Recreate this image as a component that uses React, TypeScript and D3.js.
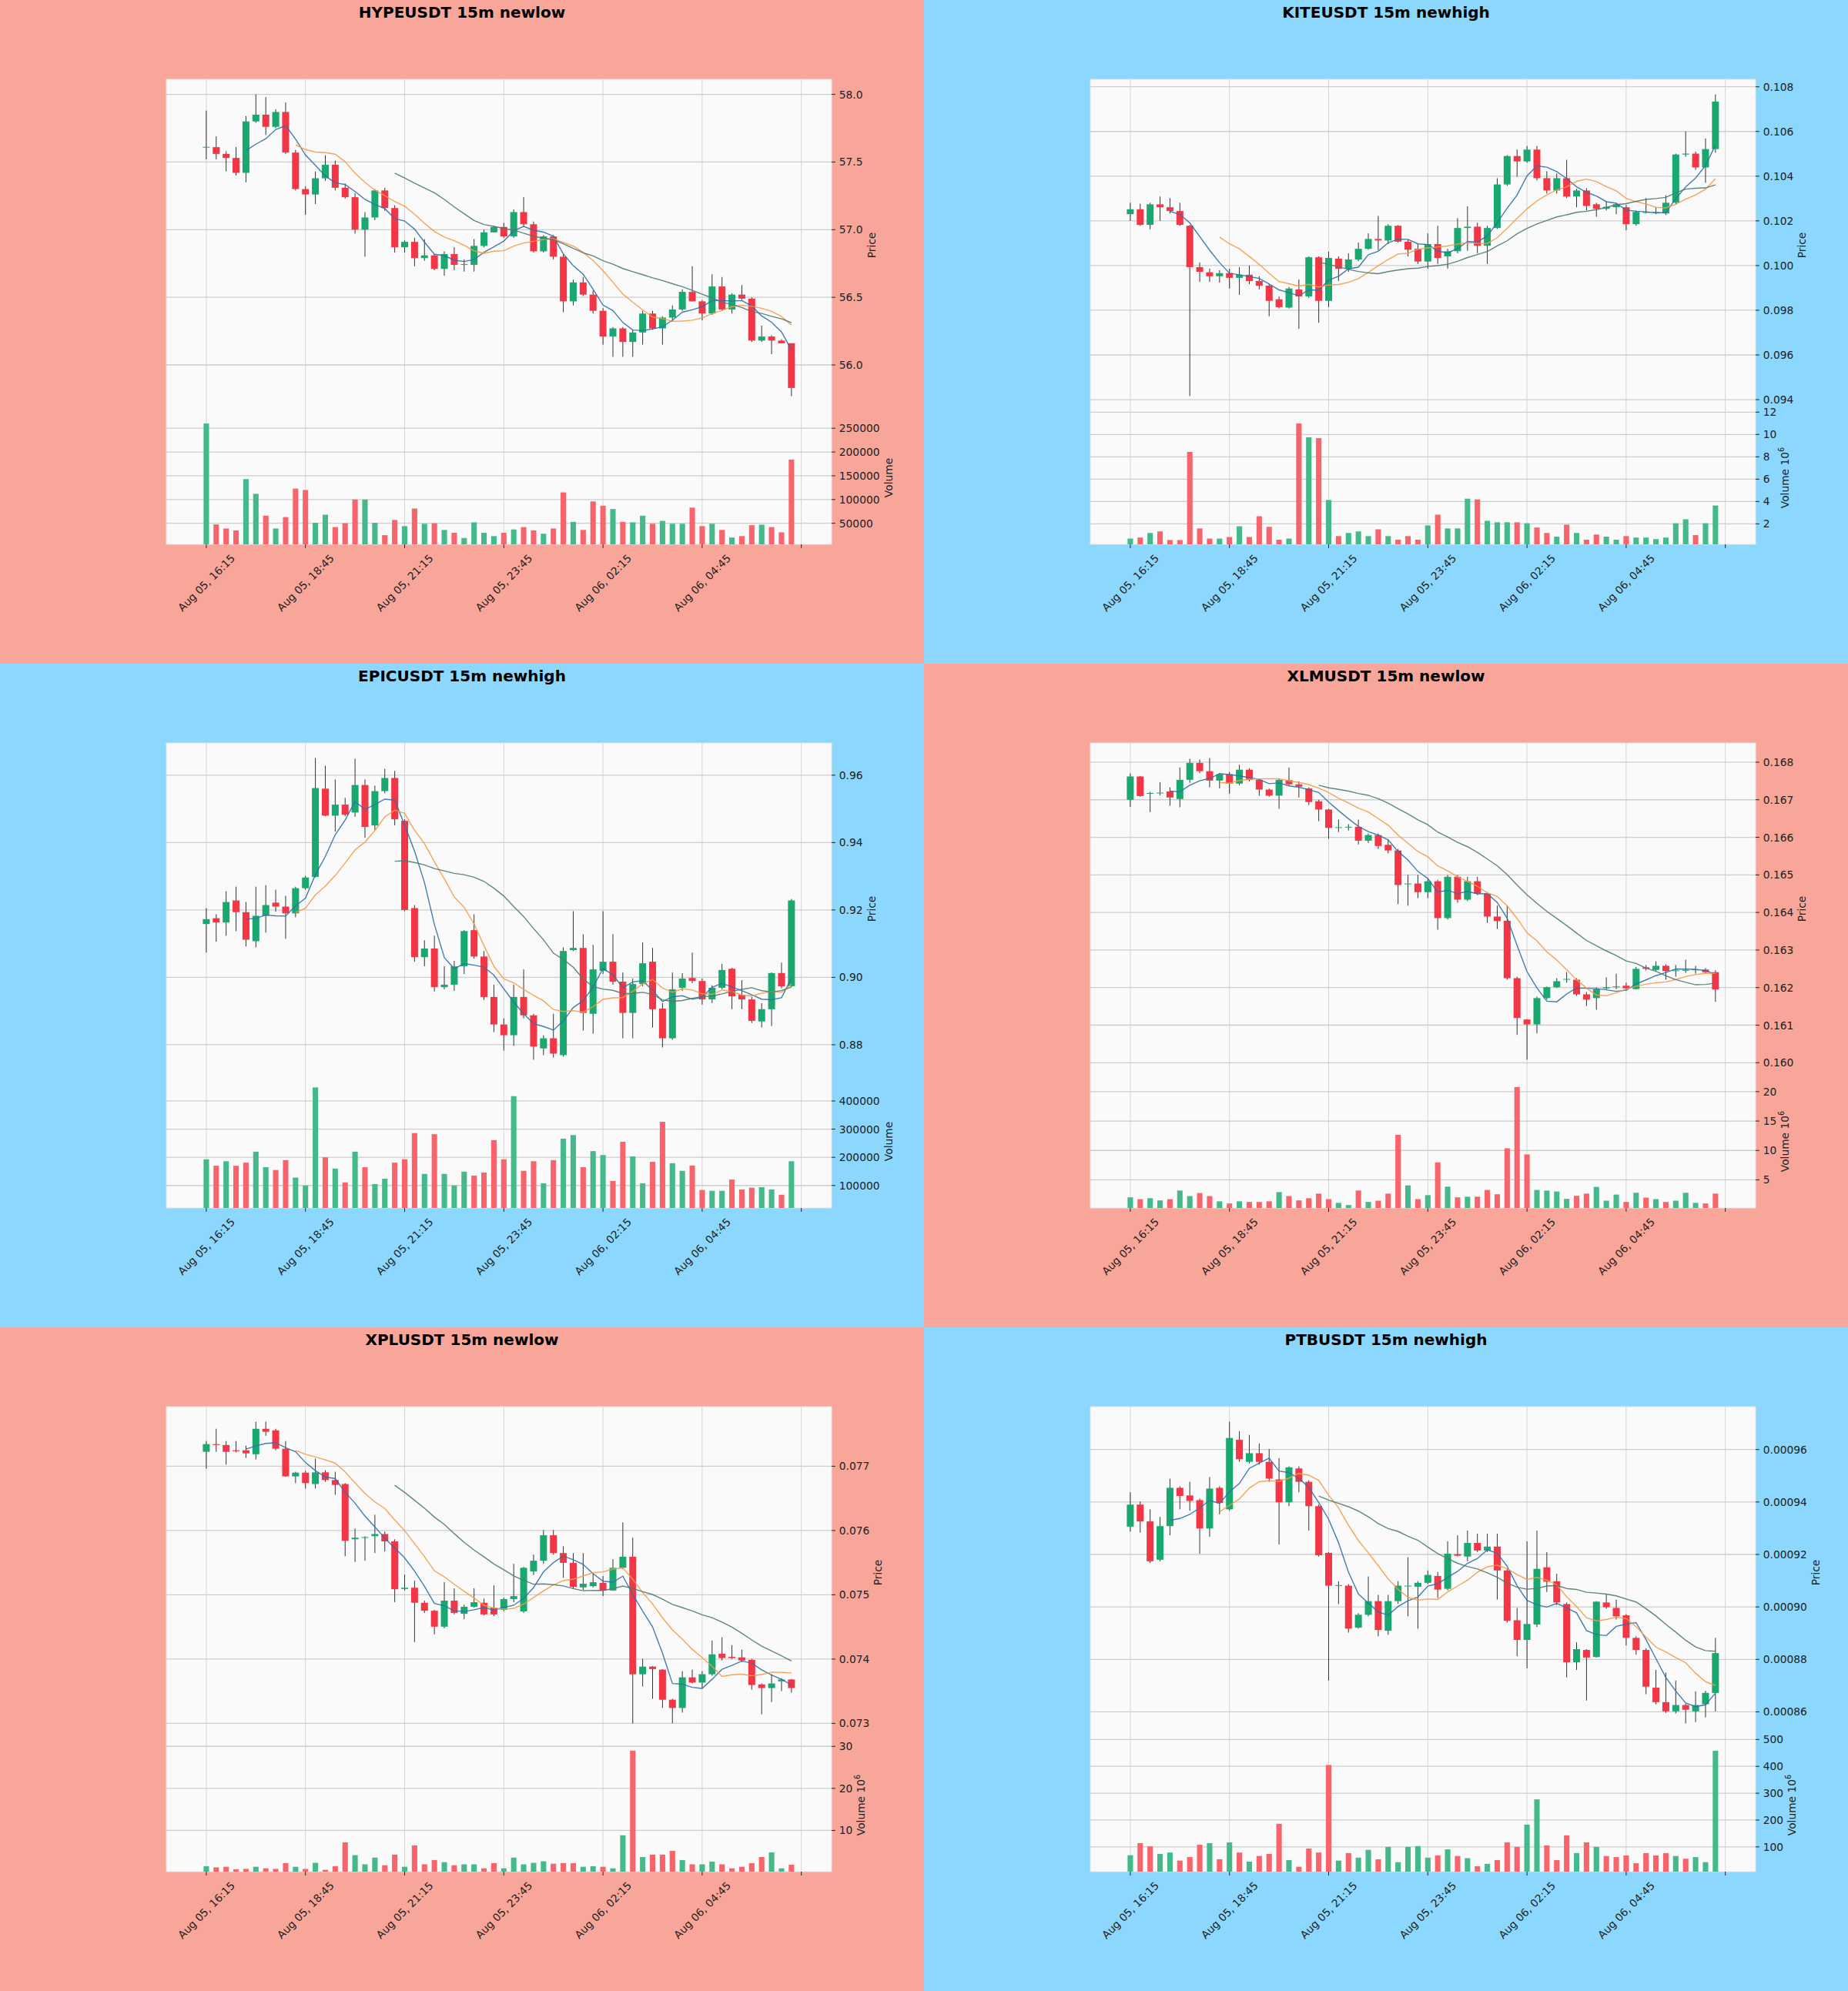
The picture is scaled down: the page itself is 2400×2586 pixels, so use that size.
import * as d3 from "d3";

type Candle = [number, number, number, number]; // open, high, low, close

const xTickIndex = [0, 10, 20, 30, 40, 50, 60];
const xTickLabels = ["Aug 05, 16:15", "Aug 05, 18:45", "Aug 05, 21:15", "Aug 05, 23:45", "Aug 06, 02:15", "Aug 06, 04:45", ""];
const maPeriods = [5, 10, 20];

const hypeCandles: Candle[] = [
  [57.61, 57.88, 57.52, 57.612], [57.61, 57.69, 57.52, 57.56], [57.56, 57.58, 57.43, 57.53], [57.53, 57.61, 57.4, 57.42],
  [57.42, 57.84, 57.35, 57.8], [57.8, 58.0, 57.79, 57.85], [57.85, 57.98, 57.7, 57.76], [57.76, 57.89, 57.75, 57.87],
  [57.87, 57.94, 57.56, 57.57], [57.57, 57.59, 57.29, 57.3], [57.3, 57.32, 57.11, 57.26], [57.26, 57.43, 57.19, 57.38],
  [57.38, 57.55, 57.36, 57.48], [57.48, 57.51, 57.29, 57.31], [57.31, 57.34, 57.23, 57.24], [57.24, 57.27, 56.97, 57.0],
  [57.0, 57.13, 56.8, 57.09], [57.09, 57.3, 57.07, 57.29], [57.29, 57.31, 57.14, 57.16], [57.16, 57.18, 56.83, 56.87],
  [56.87, 56.92, 56.83, 56.91], [56.91, 56.94, 56.73, 56.79], [56.79, 56.93, 56.77, 56.81], [56.81, 56.82, 56.7, 56.71],
  [56.71, 56.84, 56.66, 56.82], [56.82, 56.87, 56.7, 56.74], [56.74, 56.78, 56.69, 56.745], [56.74, 56.93, 56.69, 56.88],
  [56.88, 57.0, 56.87, 56.98], [56.98, 57.03, 56.98, 57.02], [57.02, 57.05, 56.94, 56.95], [56.95, 57.15, 56.94, 57.13],
  [57.13, 57.24, 57.02, 57.04], [57.04, 57.06, 56.83, 56.84], [56.84, 56.96, 56.83, 56.95], [56.95, 56.96, 56.78, 56.8],
  [56.8, 56.82, 56.39, 56.47], [56.47, 56.63, 56.44, 56.61], [56.61, 56.65, 56.51, 56.52], [56.52, 56.55, 56.38, 56.4],
  [56.4, 56.42, 56.15, 56.21], [56.21, 56.28, 56.06, 56.27], [56.27, 56.28, 56.06, 56.17], [56.17, 56.26, 56.06, 56.24],
  [56.24, 56.4, 56.15, 56.38], [56.38, 56.4, 56.26, 56.27], [56.27, 56.36, 56.15, 56.35], [56.35, 56.44, 56.32, 56.41],
  [56.41, 56.56, 56.4, 56.54], [56.54, 56.73, 56.47, 56.47], [56.47, 56.48, 56.33, 56.38], [56.38, 56.67, 56.37, 56.58],
  [56.58, 56.65, 56.4, 56.41], [56.41, 56.53, 56.38, 56.52], [56.52, 56.59, 56.48, 56.49], [56.49, 56.5, 56.17, 56.18],
  [56.18, 56.29, 56.17, 56.21], [56.21, 56.22, 56.08, 56.18], [56.18, 56.19, 56.16, 56.16], [56.16, 56.16, 55.77, 55.83],
];
const hypeVolume = [
  260000, 47600, 39000, 35000, 143000, 112000, 66000, 39000, 63000, 123000, 120000, 51000, 68000, 42000, 50000,
  100000, 100000, 51000, 25000, 57000, 44000, 81000, 49000, 50000, 36000, 30000, 19000, 52000, 30000, 23000,
  30000, 37000, 42000, 35000, 28000, 39000, 115000, 53000, 36000, 96000, 87000, 80000, 53000, 52000, 66000,
  49000, 55000, 49000, 49000, 83000, 44000, 49000, 36000, 20000, 23000, 46000, 47000, 42000, 31000, 184000,
];
const hypePriceTicks = [56.0, 56.5, 57.0, 57.5, 58.0];
const hypeVolumeTicks = [50000, 100000, 150000, 200000, 250000];

const kiteCandles: Candle[] = [
  [0.1023, 0.10281, 0.102, 0.10252], [0.10252, 0.10277, 0.10178, 0.10182], [0.10182, 0.10281, 0.10162, 0.10274],
  [0.10274, 0.10309, 0.102, 0.10261], [0.10261, 0.10302, 0.10233, 0.10244], [0.10244, 0.10281, 0.10178, 0.10182],
  [0.10178, 0.10182, 0.09416, 0.09993], [0.09993, 0.10014, 0.09927, 0.09972], [0.0997, 0.09986, 0.09927, 0.09952],
  [0.09952, 0.09979, 0.09924, 0.09966], [0.09966, 0.09986, 0.09897, 0.09945], [0.09945, 0.09993, 0.09869, 0.09959],
  [0.09959, 0.1, 0.09917, 0.09931], [0.09931, 0.09952, 0.09893, 0.0991], [0.0991, 0.09917, 0.09773, 0.09842],
  [0.09849, 0.09862, 0.09808, 0.09814], [0.09812, 0.09904, 0.09808, 0.09897], [0.09893, 0.09938, 0.09717, 0.09862],
  [0.09862, 0.10041, 0.09856, 0.10037], [0.10037, 0.10041, 0.09744, 0.09842], [0.09842, 0.10062, 0.09814, 0.10034],
  [0.10031, 0.10041, 0.09931, 0.09986], [0.09986, 0.10055, 0.09972, 0.10027], [0.10027, 0.10103, 0.1002, 0.10075],
  [0.10075, 0.10144, 0.10071, 0.10119], [0.10119, 0.10222, 0.10068, 0.10112], [0.10112, 0.10185, 0.10096, 0.10178],
  [0.10178, 0.10181, 0.10103, 0.10107], [0.10107, 0.10116, 0.10041, 0.10071], [0.10075, 0.10096, 0.10007, 0.10018],
  [0.10018, 0.10144, 0.09986, 0.10096], [0.10096, 0.10178, 0.10007, 0.10034], [0.10041, 0.10075, 0.09986, 0.10064],
  [0.10064, 0.10212, 0.10055, 0.10168], [0.10168, 0.10265, 0.10066, 0.10174], [0.10174, 0.10192, 0.10055, 0.10089],
  [0.10089, 0.10178, 0.10007, 0.10168], [0.10168, 0.10391, 0.10164, 0.10363], [0.10363, 0.10494, 0.10357, 0.1049],
  [0.1049, 0.10519, 0.10398, 0.10466], [0.10466, 0.10535, 0.1046, 0.10519], [0.10519, 0.10535, 0.10381, 0.10391],
  [0.10391, 0.10422, 0.10322, 0.10336], [0.10336, 0.10412, 0.10322, 0.10391], [0.10391, 0.10473, 0.10302, 0.10309],
  [0.10309, 0.10343, 0.10261, 0.10336], [0.10336, 0.10346, 0.10247, 0.10267], [0.10274, 0.10281, 0.10219, 0.10254],
  [0.10254, 0.10288, 0.10247, 0.10263], [0.10261, 0.10277, 0.1023, 0.10274], [0.10261, 0.10271, 0.10158, 0.10185],
  [0.10185, 0.10247, 0.10178, 0.1024], [0.10236, 0.10302, 0.10233, 0.1024], [0.10236, 0.10261, 0.1023, 0.1024],
  [0.10233, 0.10315, 0.10226, 0.10281], [0.10281, 0.10501, 0.10274, 0.10497], [0.10497, 0.106, 0.10487, 0.10501],
  [0.10501, 0.1051, 0.10428, 0.10439], [0.10439, 0.10569, 0.1037, 0.10521], [0.10521, 0.10766, 0.10505, 0.10734],
];
const kiteVolume = [
  680000, 770000, 1180000, 1320000, 550000, 550000, 8440000, 1590000, 680000, 680000, 820000, 1780000, 820000, 2680000, 1730000,
  580000, 680000, 10990000, 9750000, 9670000, 4140000, 900000, 1180000, 1320000, 900000, 1510000, 900000, 580000, 900000, 580000,
  1860000, 2820000, 1590000, 1590000, 4250000, 4190000, 2270000, 2140000, 2140000, 2140000, 2050000, 1670000, 1180000, 850000, 1920000,
  1180000, 580000, 1040000, 850000, 580000, 900000, 770000, 770000, 630000, 770000, 2050000, 2410000, 990000, 2050000, 3640000,
];
const kitePriceTicks = [0.094, 0.096, 0.098, 0.1, 0.102, 0.104, 0.106, 0.108];
const kiteVolumeTicks = [2e6, 4e6, 6e6, 8e6, 10e6, 12e6];

const epicCandles: Candle[] = [
  [0.91582, 0.92055, 0.90736, 0.91727], [0.91755, 0.91873, 0.91055, 0.91627], [0.91627, 0.92555, 0.91236, 0.92236],
  [0.92282, 0.92691, 0.91373, 0.91936], [0.91936, 0.92236, 0.90918, 0.91118], [0.91073, 0.92691, 0.90891, 0.91827],
  [0.91827, 0.92736, 0.91327, 0.92145], [0.92218, 0.926, 0.91945, 0.921], [0.921, 0.92418, 0.91145, 0.919],
  [0.919, 0.92691, 0.91782, 0.92645], [0.92645, 0.93009, 0.926, 0.92964], [0.92982, 0.96509, 0.92964, 0.95618],
  [0.956, 0.96282, 0.94782, 0.948], [0.948, 0.95873, 0.94327, 0.95127], [0.95127, 0.95327, 0.94782, 0.94827],
  [0.94891, 0.96491, 0.94764, 0.95709], [0.95709, 0.95873, 0.94145, 0.94464], [0.94509, 0.95691, 0.94373, 0.95527],
  [0.95527, 0.96191, 0.95464, 0.95918], [0.95918, 0.96127, 0.94509, 0.94691], [0.94645, 0.94691, 0.91964, 0.92],
  [0.92055, 0.92145, 0.90464, 0.906], [0.906, 0.911, 0.90327, 0.90855], [0.90855, 0.91236, 0.89582, 0.89709],
  [0.89709, 0.90327, 0.89645, 0.89782], [0.89782, 0.90491, 0.896, 0.90327], [0.90327, 0.914, 0.901, 0.91373],
  [0.914, 0.91873, 0.90555, 0.90618], [0.90618, 0.90782, 0.89327, 0.89418], [0.89418, 0.89782, 0.88373, 0.886],
  [0.886, 0.88782, 0.87827, 0.88282], [0.88282, 0.89782, 0.87964, 0.89418], [0.89418, 0.90236, 0.88782, 0.88873],
  [0.88873, 0.88918, 0.87555, 0.87945], [0.87891, 0.88282, 0.87691, 0.88191], [0.88191, 0.88918, 0.87618, 0.87736],
  [0.87691, 0.90891, 0.87645, 0.90782], [0.90809, 0.91964, 0.90782, 0.90873], [0.90873, 0.91282, 0.88418, 0.88945],
  [0.88918, 0.90964, 0.88327, 0.90236], [0.90191, 0.91964, 0.901, 0.90464], [0.90464, 0.91282, 0.89782, 0.89873],
  [0.89873, 0.90145, 0.88191, 0.88945], [0.88945, 0.89964, 0.88191, 0.898], [0.898, 0.91036, 0.89736, 0.90418],
  [0.90464, 0.90873, 0.88509, 0.89055], [0.89073, 0.89236, 0.87918, 0.88191], [0.88191, 0.90145, 0.88145, 0.89645],
  [0.89691, 0.90127, 0.896, 0.89964], [0.89982, 0.90736, 0.89827, 0.89891], [0.89891, 0.89964, 0.89191, 0.89345],
  [0.89345, 0.89764, 0.89236, 0.89691], [0.89691, 0.904, 0.89645, 0.90218], [0.90255, 0.90282, 0.89055, 0.89436],
  [0.89482, 0.89918, 0.89055, 0.89345], [0.89345, 0.89418, 0.88645, 0.88709], [0.88691, 0.89236, 0.88509, 0.89055],
  [0.89055, 0.90145, 0.88555, 0.90127], [0.90127, 0.90436, 0.89673, 0.89736], [0.89736, 0.92327, 0.89709, 0.92282],
];
const epicVolume = [
  193000, 170000, 186000, 170000, 181000, 220000, 165000, 155000, 190000, 128000, 100000, 448000, 200000, 160000, 111000,
  220000, 165000, 105000, 124000, 181000, 193000, 286000, 141000, 282000, 141000, 100000, 149000, 135000, 146000, 261000,
  193000, 417000, 152000, 186000, 108000, 190000, 266000, 279000, 165000, 222000, 208000, 116000, 255000, 203000, 108000,
  184000, 326000, 179000, 152000, 171000, 84000, 81000, 81000, 121000, 86000, 92000, 94000, 86000, 67000, 186000,
];
const epicPriceTicks = [0.88, 0.9, 0.92, 0.94, 0.96];
const epicVolumeTicks = [100000, 200000, 300000, 400000];

const xlmCandles: Candle[] = [
  [0.167, 0.1677, 0.16681, 0.16762], [0.16762, 0.16763, 0.16708, 0.1671], [0.16716, 0.16721, 0.16667, 0.16718],
  [0.16717, 0.16747, 0.16712, 0.16719], [0.16722, 0.16733, 0.16684, 0.16706], [0.16702, 0.16786, 0.1668, 0.16753],
  [0.16753, 0.16809, 0.16745, 0.16798], [0.16798, 0.16807, 0.16771, 0.16776], [0.16776, 0.16811, 0.16733, 0.16751],
  [0.16751, 0.16771, 0.1673, 0.16768], [0.16768, 0.16774, 0.16716, 0.16743], [0.16743, 0.16793, 0.16739, 0.1678],
  [0.1678, 0.16784, 0.16749, 0.16753], [0.16753, 0.16757, 0.16711, 0.16727], [0.16727, 0.1673, 0.16708, 0.16711],
  [0.16711, 0.16757, 0.16676, 0.16753], [0.16752, 0.16786, 0.16737, 0.16741], [0.16741, 0.16749, 0.16706, 0.16735],
  [0.1673, 0.16733, 0.16686, 0.16694], [0.16696, 0.167, 0.16643, 0.16674], [0.16674, 0.16676, 0.16596, 0.16625],
  [0.16625, 0.16647, 0.16614, 0.16627], [0.16627, 0.16635, 0.16618, 0.16628], [0.16628, 0.16647, 0.16581, 0.16591],
  [0.16591, 0.1661, 0.16585, 0.16606], [0.16606, 0.1661, 0.16569, 0.16577], [0.1658, 0.16594, 0.16557, 0.16565],
  [0.16565, 0.16569, 0.16422, 0.16473], [0.16475, 0.165, 0.16418, 0.16477], [0.16477, 0.165, 0.16438, 0.16454],
  [0.16454, 0.16491, 0.16438, 0.16483], [0.16483, 0.16487, 0.16354, 0.16385], [0.16385, 0.165, 0.16381, 0.16495],
  [0.16495, 0.165, 0.16426, 0.16434], [0.16434, 0.16495, 0.1643, 0.16483], [0.16483, 0.16495, 0.16446, 0.1645],
  [0.1645, 0.16454, 0.16372, 0.16389], [0.16389, 0.16418, 0.16356, 0.16377], [0.16378, 0.16418, 0.16221, 0.16225],
  [0.16225, 0.16229, 0.16074, 0.16119], [0.16115, 0.16116, 0.16008, 0.16102], [0.16102, 0.16176, 0.16078, 0.16172],
  [0.16172, 0.16203, 0.16168, 0.16201], [0.16201, 0.16225, 0.16199, 0.16217], [0.16221, 0.16241, 0.16213, 0.16223],
  [0.16221, 0.16225, 0.16178, 0.16182], [0.16182, 0.16188, 0.16151, 0.16168], [0.16172, 0.162, 0.16141, 0.16196],
  [0.16198, 0.16227, 0.16195, 0.16201], [0.16201, 0.16237, 0.16196, 0.16203], [0.16205, 0.16213, 0.16192, 0.16198],
  [0.16196, 0.16255, 0.16195, 0.1625], [0.16254, 0.1626, 0.16246, 0.1625], [0.16247, 0.1627, 0.16244, 0.16258],
  [0.16258, 0.16262, 0.16221, 0.16244], [0.16244, 0.1626, 0.16229, 0.16246], [0.16246, 0.16274, 0.16239, 0.16247],
  [0.16246, 0.16258, 0.16237, 0.16248], [0.16248, 0.16252, 0.16237, 0.16241], [0.16241, 0.16246, 0.16162, 0.16195],
];
const xlmVolume = [
  2030000, 1720000, 1880000, 1510000, 1720000, 3180000, 2240000, 2760000, 2240000, 1350000, 990000, 1350000, 1250000, 1250000, 1350000,
  2920000, 2240000, 1510000, 1880000, 2660000, 1720000, 1090000, 730000, 3180000, 1250000, 1460000, 2660000, 12660000, 4060000, 1720000,
  2400000, 7970000, 3850000, 2030000, 2140000, 2140000, 3280000, 2550000, 10360000, 20780000, 9320000, 3280000, 3180000, 3020000, 1770000,
  2290000, 2660000, 3800000, 1460000, 2500000, 1250000, 2810000, 1980000, 1720000, 1250000, 1460000, 2810000, 1090000, 990000, 2660000,
];
const xlmPriceTicks = [0.16, 0.161, 0.162, 0.163, 0.164, 0.165, 0.166, 0.167, 0.168];
const xlmVolumeTicks = [5e6, 10e6, 15e6, 20e6];

const xplCandles: Candle[] = [
  [0.077224, 0.077391, 0.076962, 0.077344], [0.077344, 0.077582, 0.077224, 0.07733], [0.07733, 0.077391, 0.077024, 0.077224],
  [0.077248, 0.077391, 0.077215, 0.077234], [0.077248, 0.07732, 0.077129, 0.0772], [0.077186, 0.077692, 0.077105, 0.077582],
  [0.077582, 0.077692, 0.077473, 0.077535], [0.077558, 0.077582, 0.077248, 0.077272], [0.077272, 0.077391, 0.076833, 0.076842],
  [0.076842, 0.076914, 0.076737, 0.0769], [0.0769, 0.076928, 0.076652, 0.076737], [0.076723, 0.077119, 0.076652, 0.076905],
  [0.076905, 0.076938, 0.076757, 0.076785], [0.076785, 0.076914, 0.076556, 0.076709], [0.076723, 0.076737, 0.075601, 0.07584],
  [0.075864, 0.07603, 0.07551, 0.075888], [0.075888, 0.075912, 0.07553, 0.075897], [0.075912, 0.076246, 0.075649, 0.075945],
  [0.075945, 0.075983, 0.075673, 0.075831], [0.075831, 0.075864, 0.074886, 0.075086], [0.075091, 0.075315, 0.075067, 0.07511],
  [0.07511, 0.07522, 0.074265, 0.074876], [0.074876, 0.074909, 0.074718, 0.074752], [0.074752, 0.074766, 0.074384, 0.074504],
  [0.074504, 0.075196, 0.07448, 0.074909], [0.074909, 0.0751, 0.074695, 0.074718], [0.074704, 0.074847, 0.074623, 0.074814],
  [0.074814, 0.0751, 0.0748, 0.074885], [0.074876, 0.07494, 0.07468, 0.074695], [0.0748, 0.075148, 0.074671, 0.074695],
  [0.074766, 0.074957, 0.074743, 0.074933], [0.074933, 0.075482, 0.074885, 0.07498], [0.074742, 0.075434, 0.074718, 0.07542],
  [0.075363, 0.075625, 0.075306, 0.07553], [0.07553, 0.076007, 0.075482, 0.075926], [0.075926, 0.076007, 0.075625, 0.075649],
  [0.075649, 0.075754, 0.075267, 0.075497], [0.075497, 0.075649, 0.0751, 0.075124], [0.075115, 0.075649, 0.075076, 0.075172],
  [0.075134, 0.075339, 0.075115, 0.075196], [0.075186, 0.075291, 0.074981, 0.075067], [0.075067, 0.075554, 0.075062, 0.07542],
  [0.07542, 0.076127, 0.0754, 0.075592], [0.075592, 0.075888, 0.073, 0.073764], [0.073764, 0.074003, 0.073573, 0.073883],
  [0.073883, 0.073893, 0.073382, 0.073845], [0.073836, 0.073845, 0.07324, 0.073368], [0.073368, 0.073382, 0.073, 0.07324],
  [0.07324, 0.073812, 0.073167, 0.073716], [0.073716, 0.073836, 0.073621, 0.073635], [0.073635, 0.073812, 0.073549, 0.073764],
  [0.073764, 0.074289, 0.07374, 0.074074], [0.074084, 0.074337, 0.073979, 0.074017], [0.074036, 0.074217, 0.074003, 0.074017],
  [0.074026, 0.074146, 0.073955, 0.073979], [0.073988, 0.074003, 0.073525, 0.073597], [0.073606, 0.07362, 0.073143, 0.073549],
  [0.073549, 0.073764, 0.073334, 0.073621], [0.073654, 0.073702, 0.073501, 0.073683], [0.073683, 0.073692, 0.073478, 0.073549],
];
const xplVolume = [
  1490000, 1200000, 1350000, 760000, 840000, 1350000, 980000, 840000, 2220000, 1350000, 840000, 2290000, 620000, 1490000, 7160000,
  4110000, 1930000, 3530000, 1710000, 4250000, 1350000, 6440000, 1930000, 2950000, 2440000, 1710000, 1930000, 1930000, 980000, 2220000,
  980000, 3530000, 1930000, 2290000, 2650000, 2070000, 2220000, 2220000, 1350000, 1490000, 1350000, 980000, 8840000, 28980000, 3670000,
  4250000, 4250000, 5130000, 2950000, 1930000, 1930000, 2580000, 1930000, 980000, 1350000, 2220000, 3670000, 4760000, 980000, 1850000,
];
const xplPriceTicks = [0.073, 0.074, 0.075, 0.076, 0.077];
const xplVolumeTicks = [10e6, 20e6, 30e6];

const ptbCandles: Candle[] = [
  [0.0009306, 0.0009437, 0.0009287, 0.000939], [0.000939, 0.0009402, 0.0009283, 0.0009326], [0.0009326, 0.0009372, 0.0009168, 0.0009174],
  [0.000918, 0.0009343, 0.0009174, 0.0009308], [0.0009308, 0.0009489, 0.0009273, 0.0009454], [0.0009454, 0.000946, 0.0009372, 0.0009423],
  [0.0009425, 0.0009477, 0.0009367, 0.0009404], [0.0009407, 0.0009413, 0.0009203, 0.0009299], [0.0009299, 0.0009495, 0.0009267, 0.0009451],
  [0.0009454, 0.000946, 0.0009353, 0.0009396], [0.0009372, 0.0009706, 0.0009367, 0.0009644], [0.0009637, 0.000967, 0.0009553, 0.0009563],
  [0.0009553, 0.0009656, 0.0009547, 0.0009586], [0.0009586, 0.0009623, 0.0009542, 0.0009553], [0.0009553, 0.0009602, 0.0009477, 0.0009489],
  [0.0009486, 0.0009567, 0.0009238, 0.0009399], [0.0009399, 0.0009536, 0.0009384, 0.0009532], [0.0009528, 0.0009536, 0.0009437, 0.0009477],
  [0.0009477, 0.0009483, 0.0009291, 0.0009384], [0.0009384, 0.000939, 0.0009192, 0.0009197], [0.0009206, 0.0009209, 0.0008719, 0.0009081],
  [0.0009081, 0.0009098, 0.0009011, 0.0009083], [0.0009081, 0.0009087, 0.0008902, 0.0008917], [0.0008921, 0.0008976, 0.0008917, 0.000897],
  [0.000897, 0.0009116, 0.0008964, 0.0009022], [0.0009022, 0.0009046, 0.0008888, 0.0008912], [0.0008909, 0.0009046, 0.0008894, 0.0009022],
  [0.0009022, 0.0009098, 0.0009011, 0.0009081], [0.0009078, 0.0009189, 0.0008964, 0.0009081], [0.0009077, 0.0009098, 0.0008917, 0.0009092],
  [0.0009092, 0.0009139, 0.0009087, 0.0009122], [0.0009118, 0.0009133, 0.0009034, 0.0009066], [0.0009069, 0.000925, 0.0009063, 0.0009203],
  [0.0009201, 0.0009273, 0.0009192, 0.0009195], [0.0009192, 0.0009291, 0.0009174, 0.0009244], [0.0009244, 0.0009279, 0.0009209, 0.0009215],
  [0.0009215, 0.0009279, 0.0009209, 0.000923], [0.000923, 0.0009279, 0.0009028, 0.0009139], [0.0009139, 0.0009145, 0.0008941, 0.0008947],
  [0.0008949, 0.0008996, 0.0008812, 0.0008874], [0.0008874, 0.000925, 0.0008766, 0.0008935], [0.0008933, 0.0009291, 0.0008923, 0.0009145],
  [0.0009151, 0.0009209, 0.0009057, 0.0009096], [0.0009098, 0.0009127, 0.0009007, 0.0009017], [0.0009011, 0.0009017, 0.0008731, 0.0008789],
  [0.0008789, 0.0008865, 0.000876, 0.0008839], [0.0008836, 0.0008839, 0.0008643, 0.0008807], [0.0008809, 0.0009022, 0.0008807, 0.000902],
  [0.0009017, 0.0009049, 0.0008993, 0.0008999], [0.0008996, 0.0009028, 0.0008952, 0.0008964], [0.0008968, 0.0008972, 0.0008853, 0.0008882],
  [0.0008882, 0.0008888, 0.0008818, 0.0008836], [0.0008836, 0.0008842, 0.0008667, 0.0008696], [0.0008692, 0.000876, 0.0008629, 0.0008637],
  [0.0008637, 0.000875, 0.0008596, 0.0008602], [0.0008602, 0.0008719, 0.0008594, 0.0008626], [0.0008626, 0.0008631, 0.0008556, 0.0008608],
  [0.0008602, 0.0008678, 0.0008561, 0.0008626], [0.0008629, 0.000868, 0.0008579, 0.0008672], [0.0008672, 0.0008882, 0.0008602, 0.0008824],
];
const ptbVolume = [
  69e6, 114e6, 102e6, 74e6, 79e6, 49e6, 62e6, 108e6, 114e6, 54e6, 117e6, 79e6, 45e6, 66e6, 74e6,
  186e6, 51e6, 26e6, 94e6, 79e6, 405e6, 49e6, 77e6, 60e6, 89e6, 54e6, 100e6, 43e6, 100e6, 103e6,
  60e6, 68e6, 91e6, 66e6, 58e6, 28e6, 37e6, 51e6, 117e6, 100e6, 183e6, 277e6, 106e6, 51e6, 143e6,
  77e6, 117e6, 100e6, 66e6, 62e6, 68e6, 39e6, 77e6, 68e6, 77e6, 66e6, 56e6, 62e6, 43e6, 458e6,
];
const ptbPriceTicks = [0.00086, 0.00088, 0.0009, 0.00092, 0.00094, 0.00096];
const ptbVolumeTicks = [100e6, 200e6, 300e6, 400e6, 500e6];

const SALMON = "#f9a69a";
const SKY = "#8cd7fd";
const UP = "#19a86f";
const DOWN = "#f23645";
const VOL_UP = "#45b98c";
const VOL_DOWN = "#f7646b";
const MA_COLORS = ["#2f6fa6", "#f59a45", "#4f7a70"];
const FONT = "'DejaVu Sans', 'Liberation Sans', sans-serif";
const FS = 13.8;

interface PanelSpec {
  title: string;
  bg: string;
  candles: Candle[];
  volume: number[];
  priceTicks: number[];
  priceFmt: (v: number) => string;
  volumeTicks: number[];
  volExp: number;
}

const panels: PanelSpec[] = [
  { title: "HYPEUSDT 15m newlow", bg: SALMON, candles: hypeCandles, volume: hypeVolume, priceTicks: hypePriceTicks, priceFmt: d3.format(".1f"), volumeTicks: hypeVolumeTicks, volExp: 0 },
  { title: "KITEUSDT 15m newhigh", bg: SKY, candles: kiteCandles, volume: kiteVolume, priceTicks: kitePriceTicks, priceFmt: d3.format(".3f"), volumeTicks: kiteVolumeTicks, volExp: 6 },
  { title: "EPICUSDT 15m newhigh", bg: SKY, candles: epicCandles, volume: epicVolume, priceTicks: epicPriceTicks, priceFmt: d3.format(".2f"), volumeTicks: epicVolumeTicks, volExp: 0 },
  { title: "XLMUSDT 15m newlow", bg: SALMON, candles: xlmCandles, volume: xlmVolume, priceTicks: xlmPriceTicks, priceFmt: d3.format(".3f"), volumeTicks: xlmVolumeTicks, volExp: 6 },
  { title: "XPLUSDT 15m newlow", bg: SALMON, candles: xplCandles, volume: xplVolume, priceTicks: xplPriceTicks, priceFmt: d3.format(".3f"), volumeTicks: xplVolumeTicks, volExp: 6 },
  { title: "PTBUSDT 15m newhigh", bg: SKY, candles: ptbCandles, volume: ptbVolume, priceTicks: ptbPriceTicks, priceFmt: d3.format(".5f"), volumeTicks: ptbVolumeTicks, volExp: 6 },
];

const PANEL_W = 1200;
const PANEL_H = 862;
const plot = { left: 216, right: 1080, top: 103, split: 534, bottom: 707 };

// rough DejaVu Sans advance widths, enough for numeric tick labels
function textWidth(s: string, fs: number) {
  let w = 0;
  for (const ch of s) w += ch === "." ? 0.318 : 0.636;
  return w * fs;
}

function Panel({ p, ox, oy }: { p: PanelSpec; ox: number; oy: number }) {
  const x = d3.scaleLinear().domain([-4.03, 63.05]).range([plot.left, plot.right]);
  const hi = d3.max(p.candles, (c) => c[1])!;
  const lo = d3.min(p.candles, (c) => c[2])!;
  const pad = (hi - lo) * 0.05;
  const y = d3.scaleLinear().domain([lo - pad, hi + pad]).range([plot.split, plot.top]);
  const v = d3
    .scaleLinear()
    .domain([0.3 * d3.min(p.volume)!, 1.1 * d3.max(p.volume)!])
    .range([plot.bottom, plot.split]);

  const step = x(1) - x(0);
  const bodyW = step * 0.7;
  const volW = step * 0.55;
  const closes = p.candles.map((c) => c[3]);
  const mas = maPeriods.map((n) =>
    closes.map((_, i) => (i < n - 1 ? null : d3.mean(closes.slice(i - n + 1, i + 1))!))
  );
  const line = d3
    .line<number | null>()
    .defined((d) => d != null)
    .x((_, i) => x(i))
    .y((d) => y(d as number));

  const volDiv = Math.pow(10, p.volExp);
  const volFmt = (t: number) => String(Math.round(t / volDiv));
  const priceLabels = p.priceTicks.map(p.priceFmt);
  const volLabels = p.volumeTicks.map(volFmt);
  const tickX = plot.right + 4.9 + 4.9;
  const priceLabelX = tickX + d3.max(priceLabels, (s) => textWidth(s, FS))! + 5.6 + 0.76 * FS;
  const volLabelX = tickX + d3.max(volLabels, (s) => textWidth(s, FS))! + 5.6 + 0.76 * FS;
  const priceMid = (plot.top + plot.split) / 2;
  const volMid = (plot.split + plot.bottom) / 2;
  const xLabelY = plot.bottom + 10 + 40;

  return (
    <g transform={`translate(${ox},${oy})`}>
      <rect x={0} y={0} width={PANEL_W} height={PANEL_H} fill={p.bg} />
      <text x={PANEL_W / 2} y={23} textAnchor="middle" fontSize={20} fontWeight="bold" fill="#000">
        {p.title}
      </text>
      <rect x={plot.left} y={plot.top} width={plot.right - plot.left} height={plot.bottom - plot.top} fill="#fafafa" stroke="#e4e4e4" strokeWidth={1} />

      {/* grid */}
      {xTickIndex.map((t) => (
        <line key={"gx" + t} x1={x(t)} x2={x(t)} y1={plot.top} y2={plot.bottom} stroke="#d6d6d6" strokeWidth={1} />
      ))}
      {p.priceTicks.map((t) => (
        <line key={"gp" + t} x1={plot.left} x2={plot.right} y1={y(t)} y2={y(t)} stroke="#cdcdcd" strokeWidth={1.3} />
      ))}
      {p.volumeTicks.map((t) => (
        <line key={"gv" + t} x1={plot.left} x2={plot.right} y1={v(t)} y2={v(t)} stroke="#cdcdcd" strokeWidth={1.3} />
      ))}

      {/* volume */}
      {p.volume.map((vol, i) => {
        const up = p.candles[i][3] >= p.candles[i][0];
        return (
          <rect key={"v" + i} x={x(i) - volW / 2} y={v(vol)} width={volW} height={plot.bottom - v(vol)} fill={up ? VOL_UP : VOL_DOWN} />
        );
      })}

      {/* candles */}
      {p.candles.map(([o, h, l, c], i) => {
        const up = c >= o;
        const top = y(Math.max(o, c));
        const hgt = Math.max(1, Math.abs(y(o) - y(c)));
        return (
          <g key={"c" + i}>
            <line x1={x(i)} x2={x(i)} y1={y(h)} y2={y(l)} stroke="#333" strokeWidth={1} />
            <rect x={x(i) - bodyW / 2} y={top} width={bodyW} height={hgt} fill={up ? UP : DOWN} />
          </g>
        );
      })}

      {/* moving averages */}
      {mas.map((m, k) => (
        <path key={"ma" + k} d={line(m) || ""} fill="none" stroke={MA_COLORS[k]} strokeWidth={1.4} strokeOpacity={0.9} />
      ))}

      {/* right axes */}
      {p.priceTicks.map((t, k) => (
        <g key={"tp" + t}>
          <line x1={plot.right} x2={plot.right + 4.9} y1={y(t)} y2={y(t)} stroke="#222" />
          <text x={tickX} y={y(t)} dominantBaseline="central" fontSize={FS} fill="#222">
            {priceLabels[k]}
          </text>
        </g>
      ))}
      {p.volumeTicks.map((t, k) => (
        <g key={"tv" + t}>
          <line x1={plot.right} x2={plot.right + 4.9} y1={v(t)} y2={v(t)} stroke="#222" />
          <text x={tickX} y={v(t)} dominantBaseline="central" fontSize={FS} fill="#222">
            {volLabels[k]}
          </text>
        </g>
      ))}
      <text x={priceLabelX} y={priceMid} textAnchor="middle" fontSize={FS} fill="#222" transform={`rotate(-90 ${priceLabelX} ${priceMid})`}>
        Price
      </text>
      <text x={volLabelX} y={volMid} textAnchor="middle" fontSize={FS} fill="#222" transform={`rotate(-90 ${volLabelX} ${volMid})`}>
        {p.volExp ? (
          <>
            {"Volume  10"}
            <tspan dy={-6} fontSize={FS * 0.7}>
              {String(p.volExp)}
            </tspan>
          </>
        ) : (
          "Volume"
        )}
      </text>

      {/* bottom axis */}
      {xTickIndex.map((t, k) => (
        <g key={"tx" + t}>
          <line x1={x(t)} x2={x(t)} y1={plot.bottom} y2={plot.bottom + 4.9} stroke="#222" />
          {xTickLabels[k] && (
            <text
              x={x(t)}
              y={xLabelY}
              textAnchor="middle"
              dominantBaseline="central"
              fontSize={FS}
              fill="#222"
              transform={`rotate(-45 ${x(t)} ${xLabelY})`}
            >
              {xTickLabels[k]}
            </text>
          )}
        </g>
      ))}
    </g>
  );
}

export default function App() {
  return (
    <div style={{ position: "absolute", left: 0, top: 0 }}>
      <svg width={2400} height={2586} style={{ display: "block", fontFamily: FONT }}>
        {panels.map((p, i) => (
          <Panel key={p.title} p={p} ox={(i % 2) * PANEL_W} oy={Math.floor(i / 2) * PANEL_H} />
        ))}
      </svg>
    </div>
  );
}
